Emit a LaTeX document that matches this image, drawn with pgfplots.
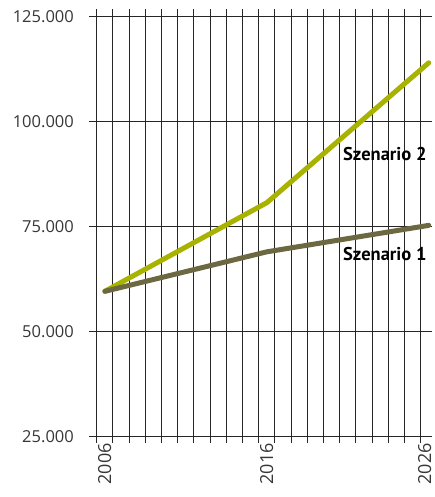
\documentclass[border=0pt]{standalone}
\usepackage{pgfplots}
\pgfplotsset{compat=1.18}
\usepackage{fontspec}
\setmainfont{Open Sans}
\newfontfamily\labfont{PT Sans}
\definecolor{sztwo}{RGB}{168,178,0}
\definecolor{szone}{RGB}{107,104,66}
\definecolor{lab}{RGB}{55,55,55}
\begin{document}
\begin{tikzpicture}[x=1pt,y=1pt]
\path[use as bounding box] (0,0) rectangle (435,497);
\begin{axis}[
  scale only axis,
  width=343pt, height=434pt,
  at={(89pt,54pt)}, anchor=south west,
  xmin=2005.52, xmax=2026.7,
  ymin=23500, ymax=126800,
  axis line style={draw=none},
  xtick={2006.0,2016.0,2025.75},
  xticklabels={2006,2016,2026},
  x tick label style={rotate=90, anchor=east, font=\fontsize{18}{18}\selectfont, text=lab, inner sep=0pt, yshift=-8pt},
  extra x ticks={2006,2007,...,2026},
  extra x tick labels={},
  extra x tick style={grid=major, major grid style={draw=black!85, line width=1pt}},
  ytick={25000,50000,75000,100000,125000},
  yticklabels={25.000,50.000,75.000,100.000,125.000},
  y tick label style={font=\fontsize{16.5}{16.5}\selectfont, text=lab, inner sep=0pt, xshift=-15pt},
  ymajorgrids,
  major grid style={draw=black!85, line width=1pt},
  major tick length=0pt,
  clip=false,
]
\addplot[sztwo, line width=5pt, line cap=round, line join=round] coordinates {
  (2006.5,59600) (2016.5,80700) (2026.5,114000)};
\addplot[szone, line width=5pt, line cap=round, line join=round] coordinates {
  (2006.5,59600) (2016.5,69000) (2026.5,75300)};
\node[anchor=west, font=\labfont\bfseries\fontsize{18.5}{18.5}\selectfont, inner sep=0pt] at (axis cs:2021.2,92300) {Szenario 2};
\node[anchor=west, font=\labfont\bfseries\fontsize{18.5}{18.5}\selectfont, inner sep=0pt] at (axis cs:2021.2,68400) {Szenario 1};
\end{axis}
\end{tikzpicture}
\end{document}
